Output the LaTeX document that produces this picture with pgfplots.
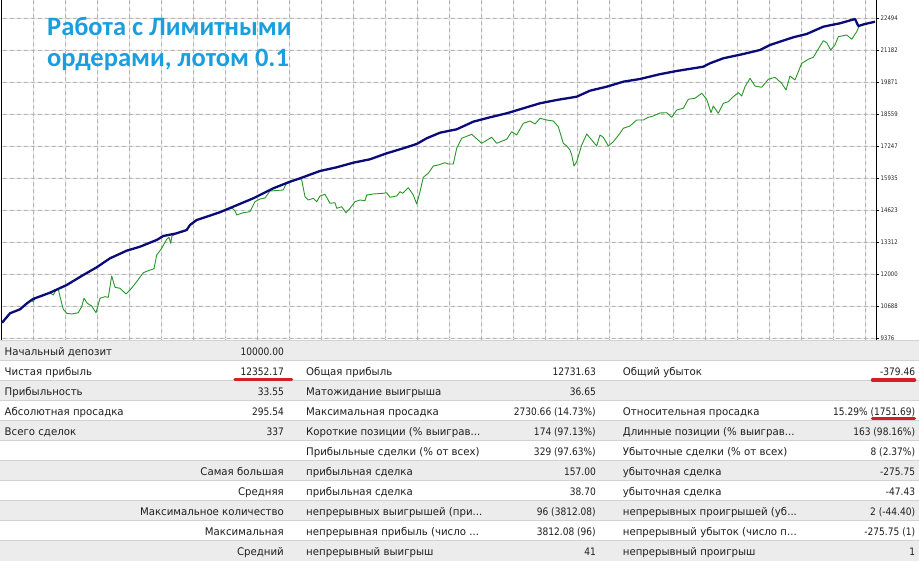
\documentclass[border=0pt]{standalone}
\usepackage{pgfplots}
\usepackage{pgfplotstable}
\pgfplotsset{compat=1.18}
\usepackage{fontspec}
\setmainfont{DejaVu Sans}
\newfontfamily\lfont{DejaVu Sans}[FakeStretch=0.97]
\newfontfamily\nfont{DejaVu Sans}[FakeStretch=0.88]
\newfontfamily\tickfont{DejaVu Sans}[FakeStretch=0.85]
\newfontfamily\titlefont{Carlito}
\definecolor{balance}{RGB}{10,10,120}
\definecolor{equity}{RGB}{40,150,40}
\definecolor{titleblue}{RGB}{27,158,222}
\definecolor{rowgray}{RGB}{236,236,236}
\definecolor{rowline}{RGB}{210,210,210}
\definecolor{gridgray}{RGB}{180,180,180}
\definecolor{gridlight}{RGB}{226,226,226}
\definecolor{redline}{RGB}{214,30,38}
\definecolor{txt}{RGB}{30,30,30}

\pgfplotstableread{
x y
2 10000
10 10389
20 10553
27 10800
33 10976
50 11235
66.7 11550
83.3 11961
96.7 12277
110 12646
126.7 12958
140 13122
156.7 13397
163.3 13561
176.7 13672
186.7 13807
190 14012
196.7 14217
220 14537
253.3 15108
273.3 15518
290 15789
300 15928
320 16228
336.7 16380
353.3 16568
370 16708
386.7 16954
403.3 17159
416.7 17336
426.7 17570
440 17799
456.7 17939
473.3 18251
490 18431
506.7 18595
523.3 18800
540 19006
556.7 19141
576.7 19276
590 19523
606.7 19687
623.3 19892
640 20003
660 20200
676.7 20331
703.3 20507
710 20647
723.3 20852
743.3 21028
760 21192
770 21398
793.3 21714
806.7 21849
823.3 22149
840 22288
855 22464
858.3 22177
865 22259
875 22352
}\balancetable

\pgfplotstableread{
x y
2 10000
10 10389
20 10553
27 10800
31 10935
33.3 10865
35 10997
50 11235
53.3 11140
56 11345
58.3 11386
60 11071
63.3 10553
66.7 10389
71.7 10361
78.3 10414
81.7 10660
84 11005
87.3 10800
91.7 10689
96 10414
100 11005
105 11071
108.3 11046
111.7 11920
115 11456
120 11415
126 11181
130 11345
136.7 11686
143.3 12055
148.3 12137
154 12219
156.7 12781
161.7 13056
166.7 13425
169 13508
170.7 13261
172 13561
176.7 13672
186.7 13807
190 14012
196.7 14217
220 14537
232 14710
235 14587
236.7 14423
243.3 14517
250 14558
255 14968
260 15079
265 15120
270 15407
283.3 15448
286 15694
300 15928
301.7 15859
305 15173
308.3 15038
313.3 15108
316.7 14968
320 15202
325 15272
330 14903
335 14927
336.7 14697
341.7 14763
346 14517
350 14697
355 14968
360 15038
365 15009
366.7 15243
373.3 15284
383.3 15313
386.7 15337
390 15149
396.7 15202
400 15379
402.7 15313
408.3 15543
413.3 15243
416.7 14874
420 15379
423.3 15969
428.3 16133
433.3 16433
438.3 16474
445 16568
448.3 16515
453.3 16515
456.7 17159
461.7 17570
471.7 17734
481.7 17364
491.7 17611
496.7 17364
506.7 17529
511.7 17840
516.7 17705
523.3 18185
530 18279
535 18156
540 18390
546.7 18320
553.3 18279
558.3 18046
563.3 17364
566.7 17254
570 17089
571.7 16884
574 16433
576.7 16609
581.7 17295
586.7 17746
591.7 17500
596.7 17254
600 17705
603.3 17611
608.3 17254
613.3 17430
620 17775
623.3 17980
630 18074
636.7 18320
643.3 18320
648.3 18431
653.3 18485
660 18608
666.7 18620
671.7 18431
676.7 18731
683.3 18800
688.3 19170
695 19211
701.7 19416
706.7 19170
711 18620
713.3 18895
718.3 18595
723.3 19006
728.3 19071
733.3 19276
738.3 19441
741.7 19305
745 19687
750 20031
755 19715
761.7 19662
768.3 19990
775 20072
781.7 19826
786 19551
790 20126
795 19962
801.7 20647
808.3 20811
813.3 20893
816.7 21123
823.3 21574
826.7 21492
830.7 21192
835 21398
838.3 21738
846.7 21808
851.7 21632
856.7 21943
859 22157
865 22259
875 22352
}\equitytable

\newcommand\labfont{\lfont\fontsize{10.5}{12}\selectfont\color{txt}}
\newcommand\numfont{\nfont\fontsize{10.3}{12}\selectfont\color{txt}}
\newcommand\cellL[3]{\node[anchor=base west,inner sep=0pt,font=\labfont] at (#1,{205.3-20*#2}) {#3};}
\newcommand\cellR[3]{\node[anchor=base east,inner sep=0pt,font=\labfont] at (#1,{205.3-20*#2}) {#3};}
\newcommand\cellN[3]{\node[anchor=base east,inner sep=0pt,font=\numfont] at (#1,{205.3-20*#2}) {#3};}

\begin{document}
\begin{tikzpicture}[x=1pt,y=1pt]
\useasboundingbox (0,0) rectangle (919,561);
\fill[white] (0,0) rectangle (919,561);
% chart grid: faint solid base line plus filled dashes
\foreach \gx in {33,65,97,129,161,193,225,257,289,321,353,385,417,449,481,513,545,577,609,641,673,705,737,769,801,833,865} {
  \fill[gridlight] (\gx,220) rectangle ({\gx+1},561);
  \fill[gridgray] \foreach \s in {0,7,...,336} {(\gx,{221+\s}) rectangle ({\gx+1},{224.5+\s})};
}
\foreach \gy in {222,254,286,318,350,382,414,446,478,510,542} {
  \fill[gridlight] (2,\gy) rectangle (876,{\gy+1});
  \fill[gridgray] \foreach \s in {0,7,...,868} {({3+\s},\gy) rectangle ({6.5+\s},{\gy+1})};
}
\begin{axis}[
  at={(1.5pt,220pt)}, anchor=south west,
  scale only axis, width=875pt, height=341pt,
  xmin=1.5, xmax=876.5, ymin=9253, ymax=23244,
  xtick=\empty,
  ytick={9376,10688,12000,13312,14623,15935,17247,18559,19871,21182,22494},
  yticklabels={9376,10688,12000,13312,14623,15935,17247,18559,19871,21182,22494},
  scaled y ticks=false,
  /pgf/number format/assume math mode=true,
  separate axis lines,
  x axis line style={draw=none},
  y axis line style={black, line width=1.3pt},
  ytick pos=right, yticklabel pos=right,
  tick align=outside, major tick length=2pt,
  ytick style={black, line width=0.6pt},
  yticklabel style={font=\tickfont\fontsize{6.3}{7}\selectfont, text=black!85, anchor=west, inner sep=0pt, xshift=2pt},
]
\addplot[equity, line width=0.9pt, line join=round] table[x=x,y=y] {\equitytable};
\addplot[balance, line width=2.3pt, line join=round] table[x=x,y=y] {\balancetable};
\end{axis}
% title
\node[anchor=base west, inner sep=0pt, font=\titlefont\bfseries\fontsize{26.5}{30}\selectfont, text=titleblue] at (47,525) {Работа с Лимитными};
\node[anchor=base west, inner sep=0pt, font=\titlefont\bfseries\fontsize{26.5}{30}\selectfont, text=titleblue] at (47,494) {ордерами, лотом 0.1};
% table background
\foreach \i in {0,2,4,6,8,10} {\fill[rowgray] (0,{220.3-20*\i}) rectangle (919,{200.3-20*\i});}
\fill[white] (0,200.3) rectangle (919,180.3);
\fill[white] (0,160.3) rectangle (919,140.3);
\fill[white] (0,120.3) rectangle (919,100.3);
\fill[white] (0,80.3) rectangle (919,60.3);
\fill[white] (0,40.3) rectangle (919,20.3);
\foreach \i in {0,...,10} {\draw[rowline, line width=0.8pt] (0,{220.3-20*\i}) -- (919,{220.3-20*\i});}
% column 1
\cellL{4.5}{0}{Начальный депозит}
\cellL{4.5}{1}{Чистая прибыль}
\cellL{4.5}{2}{Прибыльность}
\cellL{4.5}{3}{Абсолютная просадка}
\cellL{4.5}{4}{Всего сделок}
% column 2
\cellN{284}{0}{10000.00}
\cellN{284}{1}{12352.17}
\cellN{284}{2}{33.55}
\cellN{284}{3}{295.54}
\cellN{284}{4}{337}
\cellR{284}{6}{Самая большая}
\cellR{284}{7}{Средняя}
\cellR{284}{8}{Максимальное количество}
\cellR{284}{9}{Максимальная}
\cellR{284}{10}{Средний}
% column 3
\cellL{306}{1}{Общая прибыль}
\cellL{306}{2}{Матожидание выигрыша}
\cellL{306}{3}{Максимальная просадка}
\cellL{306}{4}{Короткие позиции (\% выиграв...}
\cellL{306}{5}{Прибыльные сделки (\% от всех)}
\cellL{306}{6}{прибыльная сделка}
\cellL{306}{7}{прибыльная сделка}
\cellL{306}{8}{непрерывных выигрышей (при...}
\cellL{306}{9}{непрерывная прибыль (число ...}
\cellL{306}{10}{непрерывный выигрыш}
% column 4
\cellN{596}{1}{12731.63}
\cellN{596}{2}{36.65}
\cellN{596}{3}{2730.66 (14.73\%)}
\cellN{596}{4}{174 (97.13\%)}
\cellN{596}{5}{329 (97.63\%)}
\cellN{596}{6}{157.00}
\cellN{596}{7}{38.70}
\cellN{596}{8}{96 (3812.08)}
\cellN{596}{9}{3812.08 (96)}
\cellN{596}{10}{41}
% column 5
\cellL{622.7}{1}{Общий убыток}
\cellL{622.7}{3}{Относительная просадка}
\cellL{622.7}{4}{Длинные позиции (\% выиграв...}
\cellL{622.7}{5}{Убыточные сделки (\% от всех)}
\cellL{622.7}{6}{убыточная сделка}
\cellL{622.7}{7}{убыточная сделка}
\cellL{622.7}{8}{непрерывных проигрышей (уб...}
\cellL{622.7}{9}{непрерывный убыток (число п...}
\cellL{622.7}{10}{непрерывный проигрыш}
% column 6
\cellN{915.3}{1}{-379.46}
\cellN{915.3}{3}{15.29\% (1751.69)}
\cellN{915.3}{4}{163 (98.16\%)}
\cellN{915.3}{5}{8 (2.37\%)}
\cellN{915.3}{6}{-275.75}
\cellN{915.3}{7}{-47.43}
\cellN{915.3}{8}{2 (-44.40)}
\cellN{915.3}{9}{-275.75 (1)}
\cellN{915.3}{10}{1}
% red underlines
\draw[redline, line width=3.5pt, line cap=round] (235,181.7) -- (291.6,181.7);
\draw[redline, line width=3.5pt, line cap=round] (872.5,181) -- (914.5,181);
\draw[redline, line width=3.5pt, line cap=round] (872.5,142.7) -- (914.5,142.7);
\end{tikzpicture}
\end{document}
